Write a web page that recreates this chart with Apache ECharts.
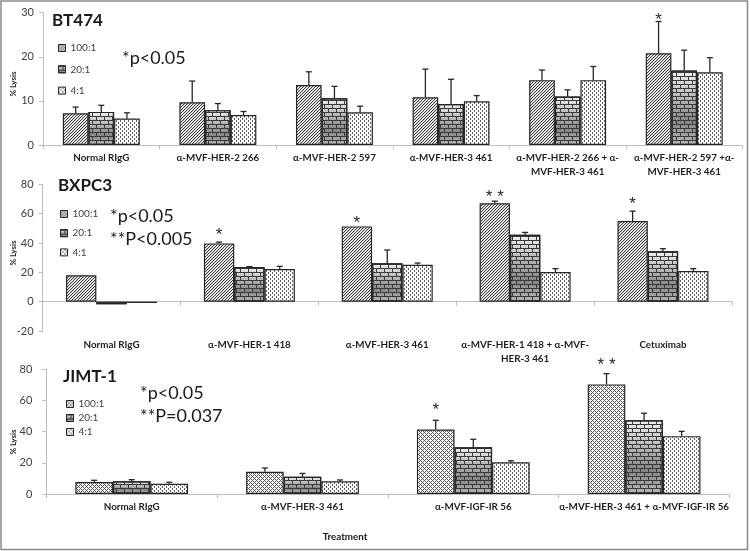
<!DOCTYPE html>
<html><head><meta charset="utf-8">
<script src="https://cdn.jsdelivr.net/npm/echarts@6/dist/echarts.min.js"></script>
<style>html,body{margin:0;padding:0;background:#fff}#c{width:750px;height:551px}</style>
</head><body><div id="c"></div>
<script>
// ---------- DATA ----------
const ratios = ['100:1', '20:1', '4:1'];

const bt474Categories = ['Normal RIgG', 'α-MVF-HER-2 266', 'α-MVF-HER-2 597', 'α-MVF-HER-3 461',
  'α-MVF-HER-2 266 + α-\nMVF-HER-3 461', 'α-MVF-HER-2 597 +α-\nMVF-HER-3 461'];
const bt474_100 = [7.2, 9.7, 13.6, 10.8, 14.7, 20.8];
const bt474_100err = [1.4, 4.8, 3.0, 6.4, 2.3, 7.2];
const bt474_20 = [7.5, 7.9, 10.6, 9.3, 11.0, 16.9];
const bt474_20err = [1.5, 1.5, 2.7, 5.6, 1.5, 4.6];
const bt474_4 = [6.0, 6.8, 7.4, 9.9, 14.7, 16.5];
const bt474_4err = [1.3, 0.8, 1.4, 1.3, 3.1, 3.3];
const bt474Stars = ['', '', '', '', '', '*'];
const bt474StarY = [null, null, null, null, null, 29.2];

const bxpc3Categories = ['Normal RIgG', 'α-MVF-HER-1 418', 'α-MVF-HER-3 461',
  'α-MVF-HER-1 418 + α-MVF-\nHER-3 461', 'Cetuximab'];
const bxpc3_100 = [18.0, 39.7, 51.3, 67.1, 54.9];
const bxpc3_100err = [0, 0.9, 0, 1.4, 6.8];
const bxpc3_20 = [-1.8, 23.6, 26.1, 45.6, 34.3];
const bxpc3_20err = [0, 0.3, 9.1, 1.6, 1.8];
const bxpc3_4 = [-0.9, 22.2, 25.2, 20.2, 20.9];
const bxpc3_4err = [0, 1.9, 1.1, 2.3, 1.6];
const bxpc3Stars = ['', '*', '*', '* *', '*'];
const bxpc3StarY = [null, 47.8, 55.8, 73.9, 69.2];

const jimtCategories = ['Normal RIgG', 'α-MVF-HER-3 461', 'α-MVF-IGF-IR 56', 'α-MVF-HER-3 461 + α-MVF-IGF-IR 56'];
const jimt_100 = [7.7, 14.3, 41.4, 70.3];
const jimt_100err = [1.1, 2.4, 5.9, 6.9];
const jimt_20 = [8.1, 11.1, 30.0, 47.3];
const jimt_20err = [1.1, 2.1, 5.1, 4.5];
const jimt_4 = [6.6, 8.1, 20.3, 37.1];
const jimt_4err = [0.9, 0.9, 1.0, 3.1];
const jimtStars = ['', '', '*', '* *'];
const jimtStarY = [null, null, 56.4, 85.3];

// ---------- STYLES ----------
function tile(size, fn) {
  const c = document.createElement('canvas'); c.width = size; c.height = size;
  const g = c.getContext('2d');
  for (let y = 0; y < size; y++) for (let x = 0; x < size; x++) { g.fillStyle = fn(x, y); g.fillRect(x, y, 1, 1); }
  return { image: c, repeat: 'repeat' };
}
const patDiag = tile(3, (x, y) => (x + y) % 3 === 2 ? '#3a3a3a' : ((x + y) % 3 === 0 ? '#d0d0d0' : '#fff'));
const patDots = tile(4, (x, y) => ((x % 4 === 0 && y % 4 < 2) || (x % 4 === 2 && y % 4 >= 2)) ? '#5e5e5e' : '#fbfbfb');
const patDiamond = tile(4, (x, y) => ((x + y) % 4 === 0 || (x - y + 8) % 4 === 0) ? '#555' : '#fff');
const brickGrad = new echarts.graphic.LinearGradient(0, 0, 0, 1, [
  { offset: 0, color: '#f2f2f2' }, { offset: 0.68, color: '#858585' }, { offset: 1, color: '#b8b8b8' }]);
const brickDecal = {
  symbol: 'rect', symbolSize: 1, symbolKeepAspect: false, color: '#3a3a3a',
  dashArrayX: [[8, 0], [1, 7], [8, 0], [0, 4, 1, 3]],
  dashArrayY: [1, 0, 3, 0]
};
const FONT = 'Lato';
const DARK = '#262626';

// ---------- BUILDERS ----------
function mkX(gi, cats, margin) {
  return {
    gridIndex: gi, type: 'category', data: cats,
    axisLine: { show: true, lineStyle: { color: '#bdbdbd', width: 1 } },
    axisTick: { show: true, length: 4, lineStyle: { color: '#bdbdbd' } },
    axisLabel: { interval: 0, margin: margin, fontFamily: FONT, fontWeight: 'bold', fontSize: 9.8, color: '#1e1e1e', lineHeight: 14 },
    splitLine: { show: false }
  };
}
function mkY(gi, min, max, interval, margin) {
  return {
    gridIndex: gi, type: 'value', min: min, max: max, interval: interval,
    splitLine: { show: false },
    axisLine: { show: true, lineStyle: { color: '#bdbdbd', width: 1 } },
    axisTick: { show: true, length: 4, lineStyle: { color: '#bdbdbd' } },
    axisLabel: { margin: margin, fontFamily: FONT, fontSize: 11, color: '#404040' }
  };
}
function bar(name, gi, data, color, decal) {
  const s = {
    type: 'bar', name: name, xAxisIndex: gi, yAxisIndex: gi, data: data,
    barWidth: '22%', barGap: '0%', silent: true, z: 2,
    itemStyle: { color: color, borderColor: DARK, borderWidth: 1.2 }
  };
  if (decal) s.itemStyle.decal = decal;
  return s;
}
function err(gi, k, vals, errs, stars, starY) {
  return {
    type: 'custom', xAxisIndex: gi, yAxisIndex: gi, silent: true, z: 5,
    data: vals.map((v, i) => [i, v, errs[i]]),
    encode: { x: 0, y: 1 },
    renderItem: function (params, api) {
      const i = api.value(0), v = api.value(1), e = api.value(2);
      const bw = api.size([1, 0])[0];
      const p = api.coord([i, v]);
      const x = p[0] + (k - 1) * 0.22 * bw;
      const children = [];
      if (e > 0) {
        const t = api.coord([i, v + e])[1];
        const ls = { stroke: DARK, lineWidth: 1.3 };
        children.push({ type: 'line', shape: { x1: x, y1: p[1], x2: x, y2: t }, style: ls });
        children.push({ type: 'line', shape: { x1: x - 3, y1: t, x2: x + 3, y2: t }, style: ls });
      }
      if (stars && stars[params.dataIndex]) {
        const sy = api.coord([i, starY[params.dataIndex]])[1];
        children.push({ type: 'text', x: x, y: sy + 4, style: { text: stars[params.dataIndex], fontFamily: 'Liberation Sans', fontSize: 17, fill: DARK, align: 'center', verticalAlign: 'middle' } });
      }
      return { type: 'group', children: children };
    }
  };
}
function legend(left, top, gap, c100) {
  return {
    left: left, top: top, orient: 'vertical', itemWidth: 7, itemHeight: 7, itemGap: gap,
    selectedMode: false, icon: 'rect',
    textStyle: { fontFamily: FONT, fontSize: 10, color: '#404040', lineHeight: 12 },
    data: [
      { name: ratios[0], itemStyle: { color: c100, borderColor: DARK, borderWidth: 1 } },
      { name: ratios[1], itemStyle: { color: brickGrad, borderColor: DARK, borderWidth: 1, decal: brickDecal } },
      { name: ratios[2], itemStyle: { color: patDots, borderColor: DARK, borderWidth: 1 } }
    ]
  };
}
function txt(x, y, text, size, weight, align, rot) {
  const el = { type: 'text', x: x, y: y, silent: true,
    style: { text: text, fontFamily: FONT, fontSize: size, fontWeight: weight, fill: '#1a1a1a', align: align || 'left', verticalAlign: 'middle' } };
  if (rot) el.rotation = rot;
  return el;
}

const option = {
  animation: false,
  backgroundColor: '#fff',
  textStyle: { fontFamily: FONT },
  grid: [
    { left: 43, top: 12.7, width: 699.5, height: 132.3, outerBoundsMode: 'none' },
    { left: 42.6, top: 184.3, width: 689.3, height: 146.7, outerBoundsMode: 'none' },
    { left: 46.3, top: 369.3, width: 683.2, height: 124.7, outerBoundsMode: 'none' }
  ],
  xAxis: [mkX(0, bt474Categories, 6), mkX(1, bxpc3Categories, 7), mkX(2, jimtCategories, 6)],
  yAxis: [mkY(0, 0, 30, 10, 9), mkY(1, -20, 80, 20, 9), mkY(2, 0, 80, 20, 14)],
  legend: [legend(53, 37, 9.3, patDiag), legend(55, 203, 7.2, patDiag), legend(61, 393, 2, patDiamond)],
  series: [
    bar(ratios[0], 0, bt474_100, patDiag), bar(ratios[1], 0, bt474_20, brickGrad, brickDecal), bar(ratios[2], 0, bt474_4, patDots),
    bar(ratios[0], 1, bxpc3_100, patDiag), bar(ratios[1], 1, bxpc3_20, brickGrad, brickDecal), bar(ratios[2], 1, bxpc3_4, patDots),
    bar(ratios[0], 2, jimt_100, patDiamond), bar(ratios[1], 2, jimt_20, brickGrad, brickDecal), bar(ratios[2], 2, jimt_4, patDots),
    err(0, 0, bt474_100, bt474_100err, bt474Stars, bt474StarY), err(0, 1, bt474_20, bt474_20err), err(0, 2, bt474_4, bt474_4err),
    err(1, 0, bxpc3_100, bxpc3_100err, bxpc3Stars, bxpc3StarY), err(1, 1, bxpc3_20, bxpc3_20err), err(1, 2, bxpc3_4, bxpc3_4err),
    err(2, 0, jimt_100, jimt_100err, jimtStars, jimtStarY), err(2, 1, jimt_20, jimt_20err), err(2, 2, jimt_4, jimt_4err)
  ],
  graphic: [
    { type: 'rect', silent: true, shape: { x: 1, y: 1, width: 746.5, height: 548.5 }, style: { fill: 'none', stroke: '#8a8a8a', lineWidth: 1.5 } },
    txt(52, 21, 'BT474', 17, 'bold'),
    txt(58, 186, 'BXPC3', 17, 'bold'),
    txt(63, 377, 'JIMT-1', 17, 'bold'),
    txt(122, 58, '*p<0.05', 18, 'normal'),
    txt(110, 216.5, '*p<0.05', 18, 'normal'),
    txt(110, 239.5, '**P<0.005', 18, 'normal'),
    txt(140, 393, '*p<0.05', 18, 'normal'),
    txt(140, 416.5, '**P=0.037', 18, 'normal'),
    txt(13.3, 84, '% Lysis', 8, 'bold', 'center', Math.PI / 2),
    txt(13.3, 253, '% Lysis', 8, 'bold', 'center', Math.PI / 2),
    txt(13.3, 442, '% Lysis', 8, 'bold', 'center', Math.PI / 2),
    txt(345, 537, 'Treatment', 9.8, 'bold', 'center')
  ]
};
const chart = echarts.init(document.getElementById('c'), null, { renderer: 'canvas' });
chart.setOption(option);
</script>
</body></html>
